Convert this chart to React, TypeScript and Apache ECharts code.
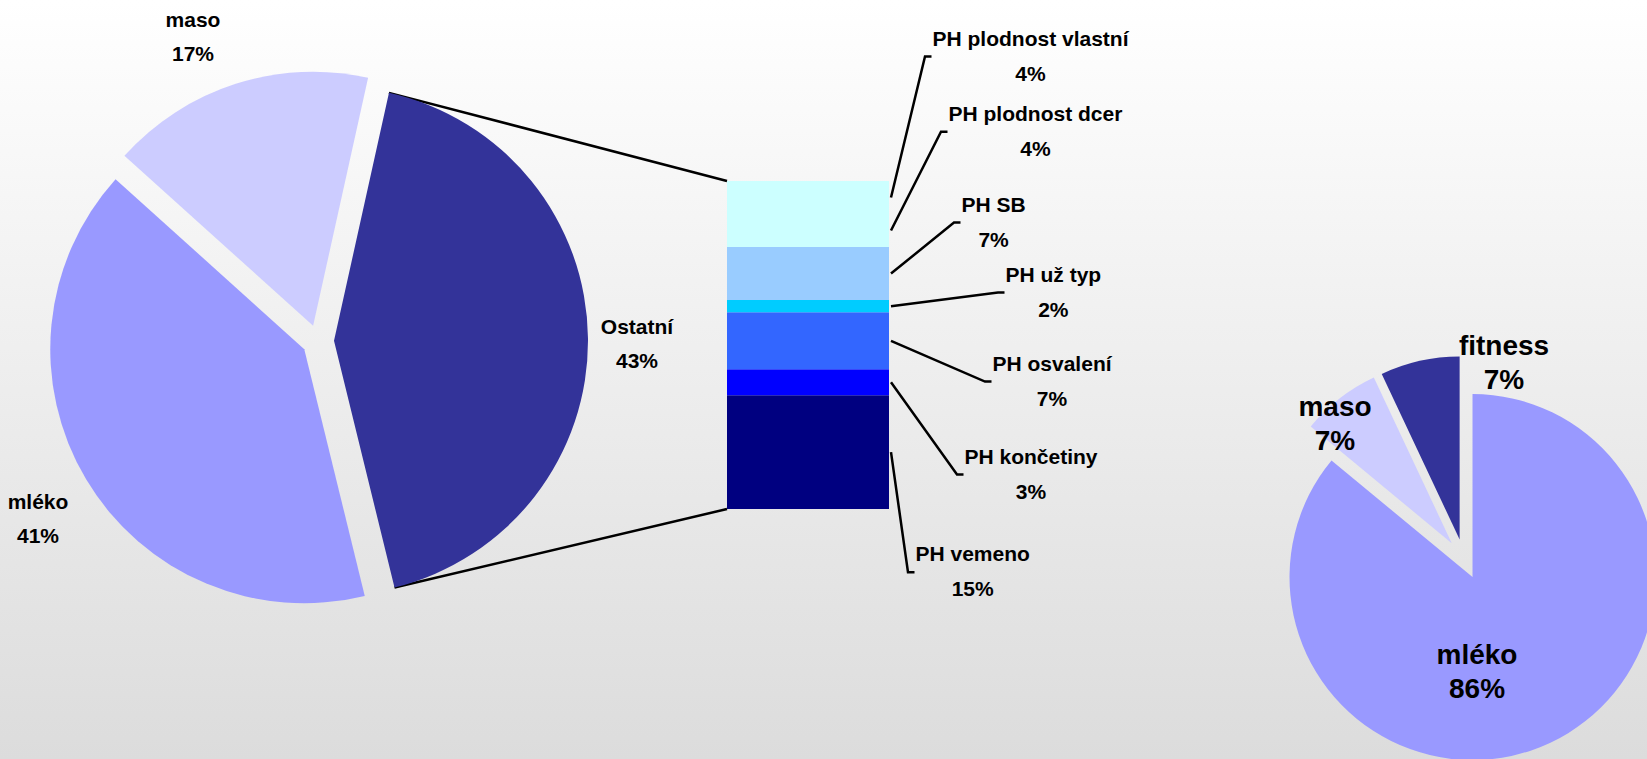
import React, { useEffect, useRef } from 'react';
import * as echarts from 'echarts';

// ---- data ----
const subNames = ['PH plodnost vlastní', 'PH plodnost dcer', 'PH SB', 'PH už typ', 'PH osvalení', 'PH končetiny', 'PH vemeno'];
const subValues = [4.3, 4.3, 6.9, 1.6, 7.4, 3.4, 14.8];
const subColors = ['#CCFFFF', '#CCFFFF', '#99CCFF', '#00CCFF', '#3366FF', '#0000FF', '#000080'];

const mainNames = ['Ostatní', 'mléko', 'maso'];
const mainOtherValues = [40.5, 16.8]; // mléko, maso
const mainColors = ['#333399', '#9999FF', '#CCCCFF'];

const smallNames = ['mléko', 'maso', 'fitness'];
const smallValues = [86, 7, 7];
const smallColors = ['#9999FF', '#CCCCFF', '#333399'];

// ---- layout ----
const FONT = '"Liberation Sans", Arial, sans-serif';
const BIG = { cx: 318, cy: 341, r: 254, offset: 16, start: 77.5 };
const SMALL = { cx: 1464, cy: 559, r: 183, offset: 20 };
const BAR = { left: 727, top: 181, width: 162, height: 328 };
const bigLabelPos = [[637, 343], [38, 518], [193, 36]];
const smallLabelPos = [[1477, 671], [1335, 423], [1504, 362]];
const subLabelElbow = [[925, 56.5], [941, 131.7], [954, 222.6], [998, 292.6], [985, 381.6], [957, 474.5], [908, 572.2]];
const LEADER_TAIL = 6.5;

export default function App() {
  const ref = useRef<HTMLDivElement>(null);
  useEffect(() => {
    if (!ref.current) return;
    const chart = echarts.init(ref.current, undefined, { renderer: 'svg' });

    const ostatni = subValues.reduce((a, b) => a + b, 0);
    const mainValues = [ostatni, ...mainOtherValues];
    const mainTotal = mainValues.reduce((a, b) => a + b, 0);
    const smallTotal = smallValues.reduce((a, b) => a + b, 0);

    // Ostatní slice edges (from data)
    const a0 = BIG.start;
    const a1 = BIG.start - (360 * ostatni) / mainTotal;
    const mid = ((a0 + a1) / 2) * Math.PI / 180;
    const ox = BIG.cx + BIG.offset * Math.cos(mid);
    const oy = BIG.cy - BIG.offset * Math.sin(mid);
    const cornerTop = [ox + BIG.r * Math.cos(a0 * Math.PI / 180), oy - BIG.r * Math.sin(a0 * Math.PI / 180)];
    const cornerBot = [ox + BIG.r * Math.cos(a1 * Math.PI / 180), oy - BIG.r * Math.sin(a1 * Math.PI / 180)];

    // stacking (top item first in lists; stack from bottom)
    const cum: number[][] = [];
    let acc = 0;
    for (let i = subValues.length - 1; i >= 0; i--) {
      cum[i] = [acc, acc + subValues[i]];
      acc += subValues[i];
    }

    const barSeries = [];
    for (let i = subValues.length - 1; i >= 0; i--) {
      barSeries.push({
        type: 'bar',
        name: subNames[i],
        stack: 'ost',
        barWidth: '100%',
        barCategoryGap: 0,
        data: [subValues[i]],
        itemStyle: { color: subColors[i] },
        emphasis: { disabled: true },
        silent: true,
      });
    }

    const richN = (size: number, lh: number) => ({
      n: { fontSize: size, fontWeight: 'bold', fontFamily: FONT, lineHeight: lh, align: 'center', fill: '#000' },
    });

    const pieText = (names: string[], values: number[], total: number, pos: number[][], size: number) =>
      names.map((n, i) => ({
        type: 'text',
        z: 100,
        x: pos[i][0],
        y: pos[i][1],
        style: {
          text: `{n|${n}}\n{n|${Math.round((values[i] / total) * 100)}%}`,
          align: 'center',
          verticalAlign: 'middle',
          fill: '#000',
          rich: richN(size, 34),
        },
      }));

    chart.setOption({
      animation: false,
      backgroundColor: {
        type: 'linear', x: 0, y: 0, x2: 0, y2: 1,
        colorStops: [{ offset: 0, color: '#ffffff' }, { offset: 1, color: '#dcdcdc' }],
      },
      grid: { left: BAR.left, top: BAR.top, width: BAR.width, height: BAR.height },
      xAxis: { type: 'category', data: ['Ostatní'], show: false },
      yAxis: { type: 'value', min: 0, max: ostatni, show: false },
      graphic: [
        ...pieText(mainNames, mainValues, mainTotal, bigLabelPos, 21),
        ...pieText(smallNames, smallValues, smallTotal, smallLabelPos, 28),
      ],
      series: [
        ...barSeries,
        {
          type: 'custom',
          clip: false,
          silent: true,
          encode: { x: 0, y: [1, 2] },
          data: subValues.map((v, i) => [0, cum[i][0], cum[i][1], i]),
          renderItem: (params: any, api: any) => {
            const i = params.dataIndex;
            const pTop = api.coord([0, api.value(2)]);
            const pBot = api.coord([0, api.value(1)]);
            const bw = api.size([1, 0])[0];
            const xr = pTop[0] + bw / 2 + 2;
            const xl = pTop[0] - bw / 2;
            const ym = (pTop[1] + pBot[1]) / 2;
            const [ex, ey] = subLabelElbow[i];
            const children: any[] = [
              {
                type: 'polyline',
                shape: { points: [[xr, ym], [ex, ey], [ex + LEADER_TAIL, ey]] },
                style: { stroke: '#000', lineWidth: 2.5, fill: 'none' },
              },
              {
                type: 'text',
                x: ex + LEADER_TAIL + 1,
                y: ey - 1,
                style: {
                  text: `{n|${subNames[i]}}\n{n|${Math.round(subValues[i])}%}`,
                  align: 'left',
                  verticalAlign: 'middle',
                  fill: '#000',
                  rich: richN(21, 35),
                },
              },
            ];
            if (i === 0) {
              children.push({ type: 'line', shape: { x1: cornerTop[0], y1: cornerTop[1], x2: xl, y2: pTop[1] }, style: { stroke: '#000', lineWidth: 2.5 } });
            }
            if (i === subValues.length - 1) {
              children.push({ type: 'line', shape: { x1: cornerBot[0], y1: cornerBot[1], x2: xl, y2: pBot[1] }, style: { stroke: '#000', lineWidth: 2.5 } });
            }
            return { type: 'group', children };
          },
        },
        {
          type: 'pie',
          center: [BIG.cx, BIG.cy],
          radius: BIG.r,
          startAngle: BIG.start,
          clockwise: true,
          selectedMode: 'multiple',
          selectedOffset: BIG.offset,
          emphasis: { disabled: true },
          silent: true,
          data: mainNames.map((n, i) => ({ name: n, value: mainValues[i], selected: true, itemStyle: { color: mainColors[i] } })),
          label: { show: false },
          labelLine: { show: false },
        },
        {
          type: 'pie',
          center: [SMALL.cx, SMALL.cy],
          radius: SMALL.r,
          startAngle: 90,
          clockwise: true,
          selectedMode: 'multiple',
          selectedOffset: SMALL.offset,
          emphasis: { disabled: true },
          silent: true,
          data: smallNames.map((n, i) => ({ name: n, value: smallValues[i], selected: true, itemStyle: { color: smallColors[i] } })),
          label: { show: false },
          labelLine: { show: false },
        },
      ],
    });
    return () => chart.dispose();
  }, []);
  return <div ref={ref} style={{ position: 'fixed', left: 0, top: 0, width: 1647, height: 759 }} />;
}
